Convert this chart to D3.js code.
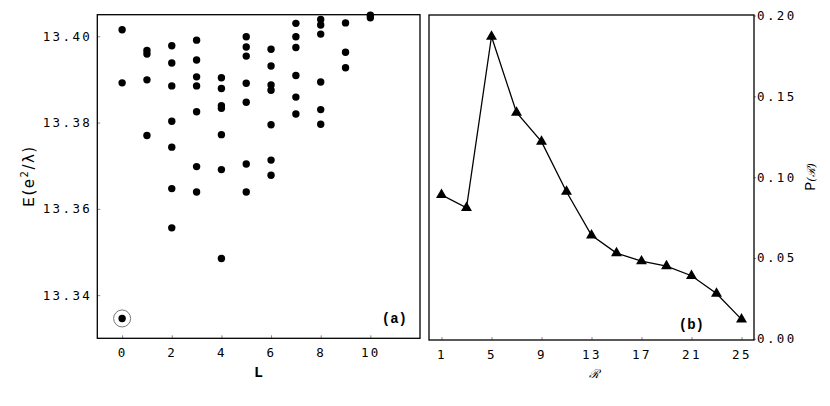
<!DOCTYPE html>
<html>
<head>
<meta charset="utf-8">
<script src="https://cdn.jsdelivr.net/npm/d3@7"></script>
<style>
  body { margin: 0; background: #fff; }
  .tick text { font-family: "DejaVu Sans Mono", monospace; font-size: 12.5px; letter-spacing: 2.4px; fill: #000; }
  .tick line { stroke: #888; }
  .domain { display: none; }
  .lbl { font-family: "Liberation Mono", "Courier New", monospace; font-weight: bold; font-size: 14px; }
</style>
</head>
<body>
<div class="chart"></div>
<script>
// panel (a): energy levels for each angular momentum L
const levelL = [0, 1, 2, 3, 4, 5, 6, 7, 8, 9, 10];
const energies = [
  [13.4015, 13.3892],
  [13.3967, 13.3959, 13.3899, 13.3770],
  [13.3978, 13.3938, 13.3885, 13.3803, 13.3743, 13.3647, 13.3556],
  [13.3991, 13.3945, 13.3906, 13.3885, 13.3825, 13.3698, 13.3639],
  [13.3904, 13.3879, 13.3839, 13.3833, 13.3772, 13.3691, 13.3485],
  [13.3999, 13.3975, 13.3954, 13.3891, 13.3847, 13.3704, 13.3639],
  [13.3970, 13.3931, 13.3887, 13.3875, 13.3795, 13.3713, 13.3678],
  [13.4030, 13.3999, 13.3974, 13.3909, 13.3859, 13.3820],
  [13.4039, 13.4026, 13.4005, 13.3894, 13.3830, 13.3796],
  [13.4031, 13.3963, 13.3927],
  [13.4049, 13.4043]
];
const groundL = 0;
const groundE = 13.3346;
const ticksL = [0, 2, 4, 6, 8, 10];
const ticksE = [13.34, 13.36, 13.38, 13.40];

// panel (b): distribution P(R)
const rValues = [1, 3, 5, 7, 9, 11, 13, 15, 17, 19, 21, 23, 25];
const pValues = [0.089, 0.081, 0.187, 0.140, 0.122, 0.091, 0.064, 0.053, 0.048, 0.045, 0.039, 0.028, 0.012];
const ticksR = [1, 5, 9, 13, 17, 21, 25];
const ticksP = [0, 0.05, 0.10, 0.15, 0.20];

const width = 830, height = 406;
const svg = d3.select(".chart").append("svg")
  .attr("width", width)
  .attr("height", height);

// ---- panel (a)
const xA = d3.scaleLinear().domain([-1, 12]).range([97.3, 420]);
const yA = d3.scaleLinear().domain([13.33, 13.405]).range([338.3, 14.7]);

svg.append("g")
  .attr("transform", "translate(0,338.3)")
  .call(d3.axisBottom(xA).tickValues(ticksL).tickSizeInner(-3).tickSizeOuter(0).tickPadding(10).tickFormat(d3.format("d")));

svg.append("g")
  .attr("transform", "translate(97.3,0)")
  .call(d3.axisLeft(yA).tickValues(ticksE).tickSizeInner(-3).tickSizeOuter(0).tickPadding(5).tickFormat(d3.format(".2f")));

const points = [];
energies.forEach((list, i) => list.forEach(e => points.push([levelL[i], e])));

svg.append("g")
  .selectAll("circle")
  .data(points)
  .enter().append("circle")
  .attr("cx", d => xA(d[0]))
  .attr("cy", d => yA(d[1]))
  .attr("r", 3.7)
  .attr("fill", "#000");

// ground state, circled
svg.append("circle")
  .attr("cx", xA(groundL)).attr("cy", yA(groundE)).attr("r", 3.7).attr("fill", "#000");
svg.append("circle")
  .attr("cx", xA(groundL)).attr("cy", yA(groundE)).attr("r", 8.5)
  .attr("fill", "none").attr("stroke", "#555").attr("stroke-width", 0.8);

svg.append("rect")
  .attr("x", 97.3).attr("y", 14.7).attr("width", 420 - 97.3).attr("height", 338.3 - 14.7)
  .attr("fill", "none").attr("stroke", "#000").attr("stroke-width", 1.3);

svg.append("text").attr("class", "lbl").attr("x", 258.5).attr("y", 377)
  .attr("text-anchor", "middle").style("font-size", "15px").text("L");
svg.append("text").attr("class", "lbl").attr("x", 407).attr("y", 323)
  .attr("text-anchor", "end").text("(a)");
svg.append("text").attr("class", "lbl")
  .attr("transform", "translate(34,176) rotate(-90)")
  .attr("text-anchor", "middle")
  .style("font-weight", "normal").style("font-size", "16px").style("letter-spacing", "1.5px")
  .html('E<tspan font-family="DejaVu Sans, sans-serif" font-size="15">(e</tspan><tspan dy="-6" font-family="DejaVu Sans, sans-serif" font-size="10">2</tspan><tspan dy="6" font-family="DejaVu Sans, sans-serif" font-size="15">/λ)</tspan>');

// ---- panel (b)
const xB = d3.scaleLinear().domain([0, 26]).range([429, 754]);
const yB = d3.scaleLinear().domain([0, 0.2]).range([338.8, 15.5]);

svg.append("g")
  .attr("transform", "translate(0,340)")
  .call(d3.axisBottom(xB).tickValues(ticksR).tickSizeInner(-3).tickSizeOuter(0).tickPadding(10).tickFormat(d3.format("d")));

svg.append("g")
  .attr("transform", "translate(754,0)")
  .call(d3.axisRight(yB).tickValues(ticksP).tickSizeInner(2).tickSizeOuter(0).tickPadding(1).tickFormat(d3.format(".2f")));

const line = d3.line()
  .x((d, i) => xB(rValues[i]))
  .y(d => yB(d));

svg.append("path")
  .datum(pValues)
  .attr("d", line)
  .attr("fill", "none")
  .attr("stroke", "#000")
  .attr("stroke-width", 1.3);

const tri = d3.symbol().type(d3.symbolTriangle).size(52);
svg.append("g")
  .selectAll("path")
  .data(pValues)
  .enter().append("path")
  .attr("d", tri)
  .attr("transform", (d, i) => `translate(${xB(rValues[i])},${yB(d)})`)
  .attr("fill", "#000");

svg.append("rect")
  .attr("x", 429).attr("y", 15).attr("width", 754 - 429).attr("height", 340 - 15)
  .attr("fill", "none").attr("stroke", "#000").attr("stroke-width", 1.3);

svg.append("text").attr("x", 594).attr("y", 378)
  .attr("text-anchor", "middle")
  .style("font-family", "DejaVu Serif, serif").style("font-style", "italic").style("font-size", "12px")
  .text("ℛ");
svg.append("text").attr("class", "lbl").attr("x", 704).attr("y", 329)
  .attr("text-anchor", "end").text("(b)");
svg.append("text").attr("class", "lbl")
  .attr("transform", "translate(815,177) rotate(-90)")
  .attr("text-anchor", "middle")
  .style("font-weight", "normal").style("font-size", "15px")
  .html('P<tspan font-family="DejaVu Serif, serif" font-style="italic" font-size="11">(ℛ)</tspan>');
</script>
</body>
</html>
